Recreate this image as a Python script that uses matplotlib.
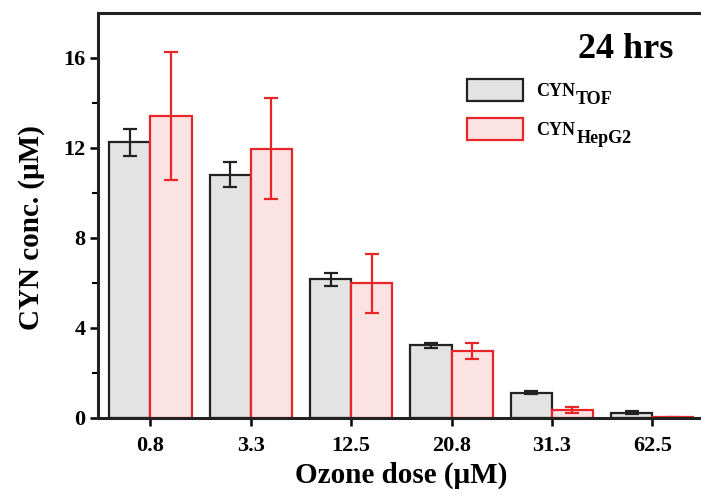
import matplotlib.pyplot as plt
import numpy as np

doses = ['0.8', '3.3', '12.5', '20.8', '31.3', '62.5']
tof_mean = [12.25, 10.8, 6.15, 3.22, 1.12, 0.23]
tof_err = [0.6, 0.55, 0.3, 0.12, 0.06, 0.05]
hepg2_mean = [13.4, 11.97, 5.98, 2.98, 0.35, 0.03]
hepg2_err = [2.85, 2.25, 1.3, 0.35, 0.12, 0.02]
legend_main = ['CYN', 'CYN']
legend_sub = ['TOF', 'HepG2']

plt.rcParams['font.family'] = ['Liberation Serif', 'DejaVu Serif']
plt.rcParams['font.weight'] = 'bold'

fig = plt.figure(figsize=(7.01, 4.95), dpi=100)
ax = fig.add_axes([0.14, 0.156, 0.865, 0.818])

x = np.arange(len(doses))
w = 0.41
red = '#e8262a'
dark = '#222222'
ax.bar(x - w / 2, tof_mean, w, color='#e3e3e3', edgecolor=dark, linewidth=1.6,
       yerr=tof_err, error_kw=dict(ecolor=dark, elinewidth=1.6, capsize=5, capthick=1.6),
       label=legend_main[0], zorder=2)
ax.bar(x + w / 2, hepg2_mean, w, color='#fce3e3', edgecolor=red, linewidth=1.6,
       yerr=hepg2_err, error_kw=dict(ecolor=red, elinewidth=1.6, capsize=5, capthick=1.6),
       label=legend_main[1], zorder=2)

ax.set_xlim(-0.52, 5.52)
ax.set_ylim(0, 18)
ax.set_xticks(x)
ax.set_xticklabels(doses)
ax.set_yticks([0, 4, 8, 12, 16])
ax.set_yticks([2, 6, 10, 14], minor=True)
ax.tick_params(axis='both', which='major', labelsize=16, width=1.8, length=6,
               direction='out', pad=3)
ax.tick_params(axis='x', which='major', pad=7)
ax.tick_params(axis='y', which='minor', width=1.5, length=4)
for s in ax.spines.values():
    s.set_linewidth(2.2)
    s.set_color(dark)

ax.set_xlabel('Ozone dose (\u03bcM)', fontsize=21, fontweight='bold', labelpad=4)
ax.set_ylabel('CYN conc. (\u03bcM)', fontsize=21, fontweight='bold')
ax.yaxis.set_label_coords(-0.088, 0.47)

fig.text(673 / 701, 1 - 50 / 495, '24 hrs', ha='right', va='center',
         fontsize=26, fontweight='bold')

leg = ax.legend(loc='upper left', bbox_to_anchor=((467 - 98) / (0.865 * 701), 1 - (79 - 13) / 405),
                frameon=False, fontsize=13, handlelength=3.1, handleheight=1.5,
                handletextpad=0.7, labelspacing=0.97, borderaxespad=0, borderpad=0)

fig.canvas.draw()
for t, sub in zip(leg.get_texts(), legend_sub):
    bb = t.get_window_extent()
    fig.text(bb.x1 / fig.bbox.width + 0.002, (bb.y0 - 8) / fig.bbox.height, sub,
             fontsize=13, fontweight='bold', ha='left', va='bottom')

fig.savefig('out.png', dpi=100)
